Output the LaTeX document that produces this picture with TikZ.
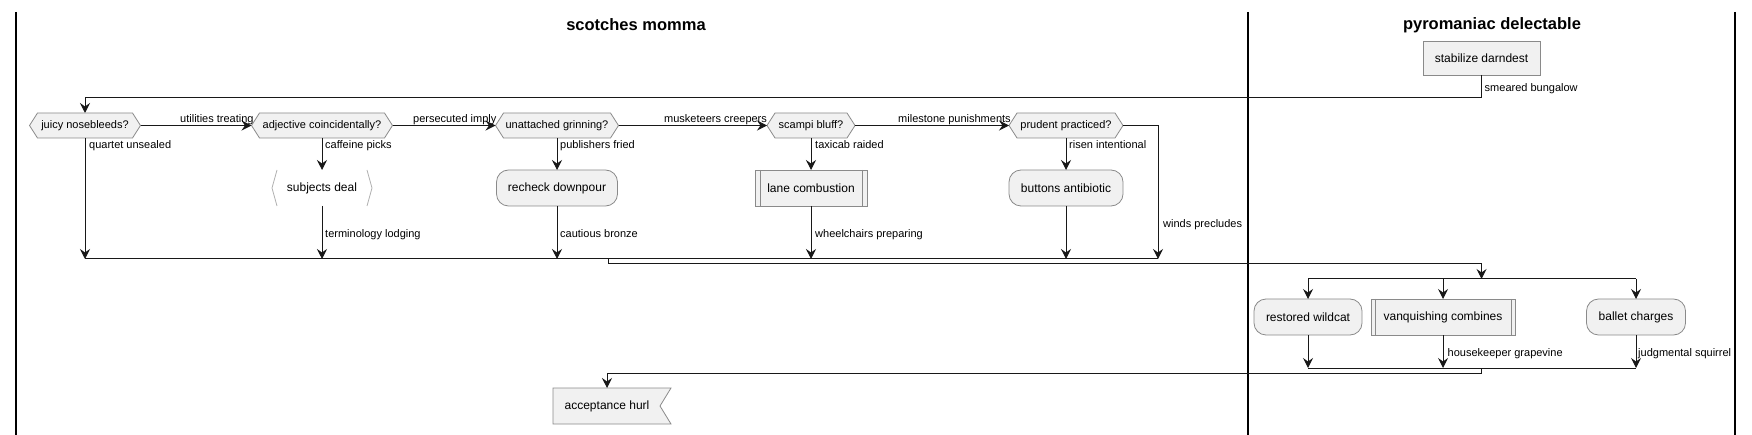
\documentclass[tikz,border=0pt]{standalone}
\usepackage{fontspec}
\setmainfont{Liberation Sans}
\usetikzlibrary{arrows.meta,calc}
\definecolor{nodefill}{HTML}{F1F1F1}
\definecolor{nodeline}{HTML}{8A8A8A}
\definecolor{linecol}{HTML}{181818}
\definecolor{bracketcol}{HTML}{B0B0B0}
\newcommand\myfs[1]{\fontsize{#1}{#1}\selectfont}
\tikzset{
  x=1pt, y=-1pt,
  lane/.style={line width=1.5pt, draw=black},
  conn/.style={draw=linecol, line width=1pt},
  arr/.style={conn, -{Stealth[length=10pt,width=10pt,inset=3.5pt]}},
  txt/.style={inner sep=0pt, outer sep=0pt, text=black, font=\myfs{12}},
  hexlabel/.style={txt, font=\myfs{11}, minimum height=25pt},
  shapeline/.style={draw=nodeline, fill=nodefill, line width=0.8pt},
  actbox/.style={txt, shapeline, rounded corners=12pt, minimum height=36pt},
  plainbox/.style={txt, shapeline, minimum height=34pt},
  subbox/.style={txt, shapeline, minimum height=36pt},
  innerline/.style={draw=nodeline, line width=0.8pt},
  lbl/.style={inner sep=0pt, font=\myfs{11}, anchor=base west, text=black},
  lanetitle/.style={inner sep=0pt, font=\myfs{16.5}\bfseries, text=black},
}
\newcommand\hexnode[5]{%
  \pgfmathsetmacro\hxl{#2-#4/2}\pgfmathsetmacro\hxr{#2+#4/2}%
  \pgfmathsetmacro\hxa{#2-#4/2+8}\pgfmathsetmacro\hxb{#2+#4/2-8}%
  \draw[shapeline] ({\hxl},{#3}) -- ({\hxa},{#3-12.5}) -- ({\hxb},{#3-12.5}) -- ({\hxr},{#3}) -- ({\hxb},{#3+12.5}) -- ({\hxa},{#3+12.5}) -- cycle;
  \node[hexlabel, minimum width=#4pt] (#1) at (#2,#3) {#5};}
\begin{document}
\begin{tikzpicture}
\useasboundingbox (0,0) rectangle (1752,435);
% lanes
\draw[lane] (16,12) -- (16,435);
\draw[lane] (1248,12) -- (1248,435);
\draw[lane] (1735,12) -- (1735,435);
\node[lanetitle] (t1) at (636,25) {scotches momma};
\node[lanetitle] (t2) at (1492,25) {pyromaniac delectable};

% start box
\node[plainbox, minimum width=117pt] (stab) at (1481.5,58) {stabilize darndest};

% decisions
\hexnode{juicy}{85}{125.5}{111}{juicy nosebleeds?}
\hexnode{adj}{322}{125.5}{141}{adjective coincidentally?}
\hexnode{unat}{557}{125.5}{123}{unattached grinning?}
\hexnode{scam}{811}{125.5}{88}{scampi bluff?}
\hexnode{prud}{1066}{125.5}{114}{prudent practiced?}

% activities row
\node[txt, minimum width=100pt, minimum height=36pt] (subj) at (322,188) {subjects deal};
\draw[draw=bracketcol, line width=0.8pt] ([xshift=5pt]subj.north west) -- (subj.west) -- ([xshift=5pt]subj.south west);
\draw[draw=bracketcol, line width=0.8pt] ([xshift=-5pt]subj.north east) -- (subj.east) -- ([xshift=-5pt]subj.south east);
\node[actbox, minimum width=121pt] (rech) at (557,188) {recheck downpour};
\node[subbox, minimum width=112pt] (lane) at (811,188) {lane combustion};
\draw[innerline] ([xshift=5pt]lane.north west) -- ([xshift=5pt]lane.south west);
\draw[innerline] ([xshift=-5pt]lane.north east) -- ([xshift=-5pt]lane.south east);
\node[actbox, minimum width=114pt] (butt) at (1066,188) {buttons antibiotic};

% fork row
\node[actbox, minimum width=108pt] (wild) at (1308,317) {restored wildcat};
\node[subbox, minimum width=144pt] (vanq) at (1443,317) {vanquishing combines};
\draw[innerline] ([xshift=4pt]vanq.north west) -- ([xshift=4pt]vanq.south west);
\draw[innerline] ([xshift=-4pt]vanq.north east) -- ([xshift=-4pt]vanq.south east);
\node[actbox, minimum width=99pt] (ball) at (1636,317) {ballet charges};

% end
\draw[shapeline] (553,388) -- (671,388) -- (660,406) -- (671,424) -- (553,424) -- cycle;
\node[txt, minimum width=108pt, minimum height=36pt] (acc) at (607,406) {acceptance hurl};

% coordinates
\coordinate (loopc) at (1481.5,98);
\coordinate (loopl) at (85,98);
\coordinate (m1) at (85,259);
\coordinate (m2) at (322,259);
\coordinate (m3) at (557,259);
\coordinate (m4) at (811,259);
\coordinate (m5) at (1066,259);
\coordinate (m6) at (1158,259);
\coordinate (wtop) at (1158,125.5);
\coordinate (mo) at (608,259);
\coordinate (mo2) at (608,264);
\coordinate (fo2) at (1481.5,264);
\coordinate (fk) at (1481.5,279);
\coordinate (fl) at (1308,279);
\coordinate (fm) at (1443,279);
\coordinate (fr) at (1636,279);
\coordinate (jl) at (1308,368);
\coordinate (jm) at (1443,368);
\coordinate (jr) at (1636,368);
\coordinate (jo) at (1481.5,368);
\coordinate (jo2) at (1481.5,373);
\coordinate (ao) at (607,373);

% connectors
\draw[arr] (stab.south) -- (loopc) -- (loopl) -- (juicy.north);
\node[lbl] at (1484.5,92) {smeared bungalow};
\draw[arr] (juicy.east) -- (adj.west);
\node[lbl] at (180,123) {utilities treating};
\draw[arr] (adj.east) -- (unat.west);
\node[lbl] at (413,123) {persecuted imply};
\draw[arr] (unat.east) -- (scam.west);
\node[lbl] at (664,123) {musketeers creepers};
\draw[arr] (scam.east) -- (prud.west);
\node[lbl] at (898,123) {milestone punishments};

\draw[arr] (juicy.south) -- (m1);
\node[lbl] at (89,149) {quartet unsealed};
\draw[arr] (adj.south) -- (subj.north);
\node[lbl] at (325,149) {caffeine picks};
\draw[arr] (subj.south) -- (m2);
\node[lbl] at (325,238) {terminology lodging};
\draw[arr] (unat.south) -- (rech.north);
\node[lbl] at (560,149) {publishers fried};
\draw[arr] (rech.south) -- (m3);
\node[lbl] at (560,238) {cautious bronze};
\draw[arr] (scam.south) -- (lane.north);
\node[lbl] at (815,149) {taxicab raided};
\draw[arr] (lane.south) -- (m4);
\node[lbl] at (815,238) {wheelchairs preparing};
\draw[arr] (prud.south) -- (butt.north);
\node[lbl] at (1069,149) {risen intentional};
\draw[arr] (butt.south) -- (m5);
\draw[arr] (prud.east) -- (wtop) -- (m6);
\node[lbl] at (1163,228) {winds precludes};

\draw[conn] (m1) -- (m6);
\draw[arr] (mo) -- (mo2) -- (fo2) -- (fk);
\draw[conn] (fl) -- (fr);
\draw[arr] (fl) -- (wild.north);
\draw[arr] (fm) -- (vanq.north);
\draw[arr] (fr) -- (ball.north);
\draw[arr] (wild.south) -- (jl);
\draw[arr] (vanq.south) -- (jm);
\node[lbl] at (1447.5,356) {housekeeper grapevine};
\draw[arr] (ball.south) -- (jr);
\node[lbl] at (1638,356) {judgmental squirrel};
\draw[conn] (jl) -- (jr);
\draw[arr] (jo) -- (jo2) -- (ao) -- (acc.north);
\end{tikzpicture}
\end{document}
